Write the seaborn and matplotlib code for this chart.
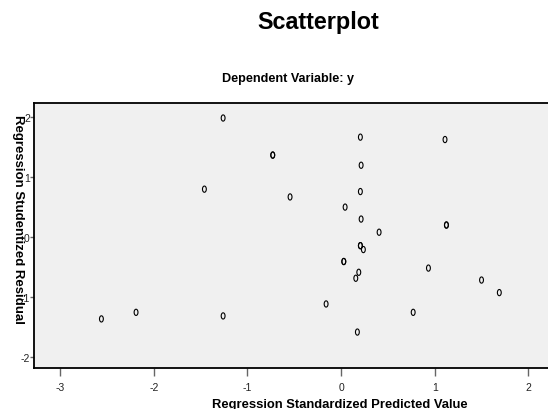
import numpy as np
import pandas as pd
import matplotlib
matplotlib.use("Agg")
import matplotlib.pyplot as plt
from matplotlib.path import Path
import seaborn as sns

# Data
pred = [-1.26, -0.73, -0.73, -1.46, -0.545, 0.043, 0.206, 1.11, 0.214, 0.206,
        0.214, 0.406, 1.125, 1.125, 0.206, 0.206, 0.238, 0.029, 0.029, 0.933,
        0.189, 0.157, 1.50, 1.69, -0.16, 0.77, 0.174, -2.56, -2.19, -1.26]
resid = [1.99, 1.37, 1.37, 0.80, 0.67, 0.50, 1.67, 1.63, 1.20, 0.76,
         0.30, 0.08, 0.20, 0.20, -0.145, -0.145, -0.21, -0.41, -0.41, -0.52,
         -0.59, -0.69, -0.72, -0.93, -1.12, -1.26, -1.59, -1.37, -1.26, -1.32]
x_ticks = [-3, -2, -1, 0, 1, 2]
y_ticks = [-2, -1, 0, 1, 2]

df = pd.DataFrame({"pred": pred, "resid": resid})

sns.set_style("white")
plt.rcParams['font.family'] = ['Liberation Sans', 'DejaVu Sans']
plt.rcParams['text.color'] = 'black'

fig = plt.figure(figsize=(5.48, 4.10), dpi=100)
ax = fig.add_axes([34/548, 1 - 369.3/410, 1 - 34/548, (369.3 - 104.3)/410])
ax.set_facecolor("#f0f0f0")

# elliptical "0"-like marker
t = np.linspace(0, 2*np.pi, 40)
verts = np.column_stack([0.62*np.cos(t), np.sin(t)])
ell = Path(verts, closed=True)

sns.scatterplot(data=df, x="pred", y="resid", ax=ax, marker=ell, s=20,
                facecolors="none", edgecolor="black", linewidth=0.8, legend=False)

ax.set_xlim(-3.28, 2.21)
ax.set_ylim(-2.196, 2.236)
ax.set_xticks(x_ticks)
ax.set_yticks(y_ticks)
ax.set_xticklabels([str(v) for v in x_ticks])
ax.set_yticklabels([str(v) for v in y_ticks])
ax.tick_params(axis="x", bottom=True, direction="out", length=5.8, width=1,
               color="#666666", labelsize=7.5, labelcolor="#222222", pad=4.3)
ax.tick_params(axis="y", left=True, direction="out", length=3, width=1,
               color="#666666", labelsize=7.5, labelcolor="#222222", pad=0)
for s in ["top", "left", "bottom"]:
    ax.spines[s].set_color("black")
    ax.spines[s].set_linewidth(1.3)
ax.spines["right"].set_visible(False)
ax.set_xlabel("")
ax.set_ylabel("")

fig.text(318/548, 1 - 23/410, "Scatterplot", ha="center", va="center",
         fontsize=16.8, fontweight="bold", color="black")
fig.text(288/548, 1 - 79/410, "Dependent Variable: y", ha="center", va="center",
         fontsize=9.1, fontweight="bold", color="black")
fig.text(340/548, 1 - 405/410, "Regression Standardized Predicted Value",
         ha="center", va="center", fontsize=9.4, fontweight="bold", color="black")
fig.text(17.5/548, 1 - 220/410, "Regression Studentized Residual", ha="center",
         va="center", rotation=-90, fontsize=9.5, fontweight="bold", color="black")

fig.savefig("out.png", dpi=100)
